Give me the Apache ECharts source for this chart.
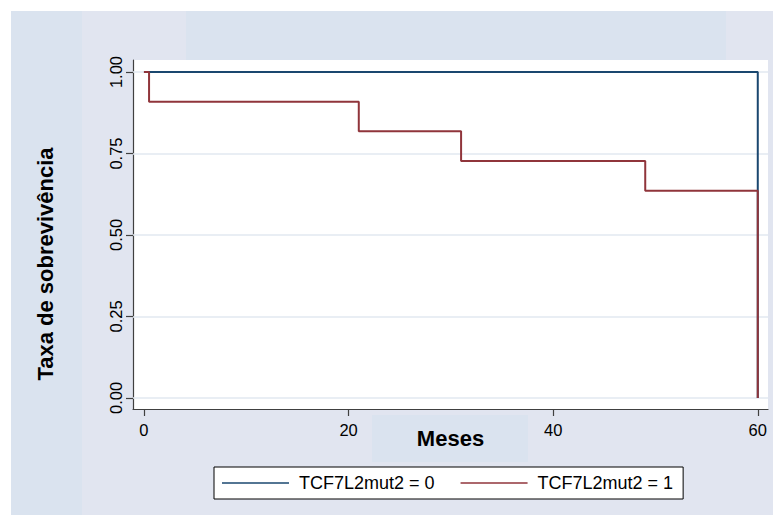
<!DOCTYPE html>
<html>
<head>
<meta charset="utf-8">
<script src="https://cdn.jsdelivr.net/npm/echarts@6/dist/echarts.min.js"></script>
<style>
html,body{margin:0;padding:0;background:#fff;}
#c{width:773px;height:515px;}
</style>
</head>
<body>
<div id="c"></div>
<script>
// Kaplan-Meier survival data (months, survival rate)
const months0 = [0, 60];
const surv0 = [1.0, 0.0];
const months1 = [0, 0.5, 21, 31, 49, 60];
const surv1 = [1.0, 0.909, 0.818, 0.727, 0.636, 0.0];
const seriesNames = ['TCF7L2mut2 = 0', 'TCF7L2mut2 = 1'];
const xTicks = [0, 20, 40, 60];
const yTicks = [0, 0.25, 0.5, 0.75, 1];
const xTitle = 'Meses';
const yTitle = 'Taxa de sobrevivência';

const FONT = '"Liberation Sans", Arial, Helvetica, sans-serif';
const chart = echarts.init(document.getElementById('c'), null, {renderer: 'svg'});

const pairs = (xs, ys) => xs.map((x, i) => [x, ys[i]]);

const option = {
  backgroundColor: '#ffffff',
  animation: false,
  textStyle: {fontFamily: FONT},
  graphic: [
    {type: 'rect', z: -100, silent: true, shape: {x: 11, y: 11, width: 762, height: 504}, style: {fill: '#E1E5F0'}},
    {type: 'rect', z: -99, silent: true, shape: {x: 11, y: 11, width: 71, height: 504}, style: {fill: '#DAE3EF'}},
    {type: 'rect', z: -99, silent: true, shape: {x: 186, y: 11, width: 540, height: 49}, style: {fill: '#DAE3EF'}},
    {type: 'rect', z: -99, silent: true, shape: {x: 372, y: 415, width: 156, height: 47}, style: {fill: '#DAE3EF'}},
    {type: 'text', z: 10, x: 45, y: 264, rotation: Math.PI / 2,
     style: {text: yTitle, fontFamily: FONT, fontWeight: 'bold', fontSize: 22, fill: '#000',
             align: 'center', verticalAlign: 'middle'}}
  ],
  grid: {
    left: 133, top: 60, width: 635, height: 349,
    show: true, backgroundColor: '#ffffff', borderWidth: 0
  },
  legend: {
    data: seriesNames,
    left: 214, top: 467,
    orient: 'horizontal',
    padding: [7, 10, 7, 8],
    itemGap: 26,
    icon: 'rect',
    itemWidth: 67,
    itemHeight: 1.6,
    backgroundColor: '#ffffff',
    borderColor: '#000000',
    borderWidth: 1,
    borderRadius: 0,
    selectedMode: false,
    textStyle: {fontFamily: FONT, fontSize: 18, color: '#000', lineHeight: 18, padding: [0, 0, 0, 5]}
  },
  xAxis: {
    type: 'value',
    min: -1.07, max: 61,
    name: xTitle,
    nameLocation: 'middle',
    nameGap: 18,
    nameMoveOverlap: false,
    nameTextStyle: {fontFamily: FONT, fontWeight: 'bold', fontSize: 22, color: '#000'},
    axisLine: {show: true, onZero: false, lineStyle: {color: '#404040', width: 1.2}},
    axisTick: {show: true, length: 7, customValues: xTicks, lineStyle: {color: '#404040', width: 1.2}},
    axisLabel: {customValues: xTicks, margin: 12, fontFamily: FONT, fontSize: 16.5, color: '#000'},
    splitLine: {show: false}
  },
  yAxis: {
    type: 'value',
    min: -0.034, max: 1.037,
    axisLine: {show: true, onZero: false, lineStyle: {color: '#404040', width: 1.2}},
    axisTick: {show: true, length: 7, customValues: yTicks, lineStyle: {color: '#404040', width: 1.2}},
    axisLabel: {customValues: yTicks, rotate: 90, margin: 9, fontFamily: FONT, fontSize: 16.5, color: '#000',
                formatter: v => v.toFixed(2)},
    splitLine: {show: false}
  },
  series: [
    {
      name: 'grid', type: 'line', data: [], z: 1, silent: true,
      markLine: {
        z: 1,
        silent: true, symbol: ['none', 'none'], label: {show: false},
        lineStyle: {color: '#E2E8F1', width: 1.5, type: 'solid'},
        emphasis: {disabled: true},
        data: yTicks.map(v => ({yAxis: v}))
      }
    },
    {
      name: seriesNames[0], type: 'line', step: 'end', z: 3,
      data: pairs(months0, surv0),
      symbol: 'none', showSymbol: false,
      lineStyle: {color: '#1A476F', width: 2},
      itemStyle: {color: '#1A476F'}
    },
    {
      name: seriesNames[1], type: 'line', step: 'end', z: 4,
      data: pairs(months1, surv1),
      symbol: 'none', showSymbol: false,
      lineStyle: {color: '#90353B', width: 2},
      itemStyle: {color: '#90353B'}
    }
  ]
};
chart.setOption(option);
</script>
</body>
</html>
